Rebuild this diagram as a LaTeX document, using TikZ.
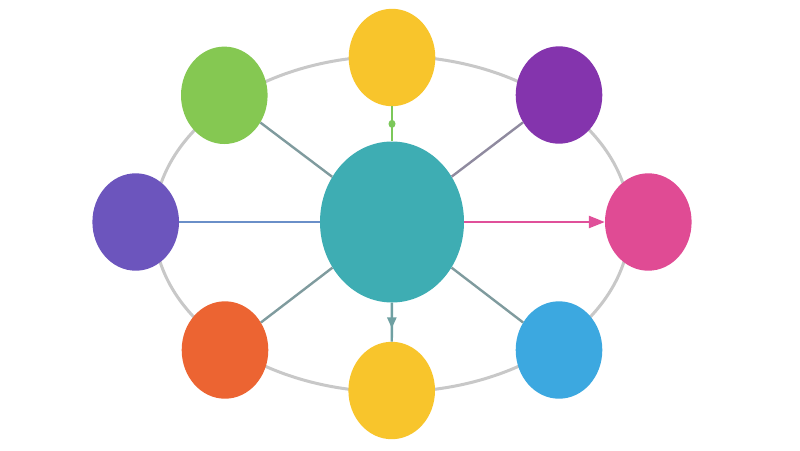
\documentclass[tikz,border=0pt]{standalone}
\usetikzlibrary{shapes.geometric,arrows.meta,decorations.markings}
\definecolor{cteal}{HTML}{3EADB3}
\definecolor{cyellow}{HTML}{F8C52C}
\definecolor{cgreen}{HTML}{85C852}
\definecolor{cpurple}{HTML}{8434AD}
\definecolor{cviolet}{HTML}{6C55BD}
\definecolor{cpink}{HTML}{E04B94}
\definecolor{corange}{HTML}{EC6432}
\definecolor{cblue}{HTML}{3CA8E0}
\definecolor{cring}{HTML}{C8C8C8}
\definecolor{lgray}{HTML}{7F9B9E}
\definecolor{lpurp}{HTML}{8F8A9F}
\definecolor{lblue}{HTML}{6A8FC8}
\definecolor{lgreen}{HTML}{7CC85A}
\definecolor{lpink}{HTML}{E0509A}
\definecolor{lteal}{HTML}{6FA0A2}
\tikzset{
  sat/.style={ellipse, draw=none, fill=#1, inner sep=0pt, minimum width=86.6pt, minimum height=97.4pt},
  hub/.style={ellipse, draw=none, fill=cteal, inner sep=0pt, minimum width=144pt, minimum height=161pt},
  link/.style={line width=2.4pt, draw=#1},
  ring/.style={line width=3pt, draw=cring}
}
\begin{document}
\begin{tikzpicture}[x=1pt,y=-1pt]
\useasboundingbox (0,0) rectangle (800,450);
\fill[white] (0,0) rectangle (800,450);
\draw[ring] (392,224) ellipse [x radius=238, y radius=168];
\node[hub] (c) at (392,222) {};
\node[sat=cyellow] (t) at (392,57.5) {};
\node[sat=cgreen] (g) at (224.3,95.3) {};
\node[sat=cpurple] (p) at (559,95) {};
\node[sat=cviolet] (v) at (135.7,222) {};
\node[sat=cpink] (k) at (648.3,222) {};
\node[sat=corange] (o) at (225,350) {};
\node[sat=cblue] (b) at (559,350) {};
\node[sat=cyellow] (y) at (391.7,390.5) {};
\draw[link=lgray] (g) -- (c);
\draw[link=lpurp] (p) -- (c);
\draw[link=lblue] (v) -- (c);
\draw[link=lgray] (o) -- (c);
\draw[link=lgray] (b) -- (c);
\draw[link=lgreen, postaction={decorate}, decoration={markings, mark=at position 0.5 with {\fill[lgreen] (0,0) ellipse [x radius=4pt, y radius=3.5pt];}}] (t) -- (c);
\draw[link=lpink, -{Triangle[length=16pt,width=12pt]}] (c) -- (k);
\draw[link=lteal, postaction={decorate}, decoration={markings, mark=at position 0.66 with {\arrow{Triangle[length=11pt,width=9pt]}}}] (c) -- (y);
\end{tikzpicture}
\end{document}
